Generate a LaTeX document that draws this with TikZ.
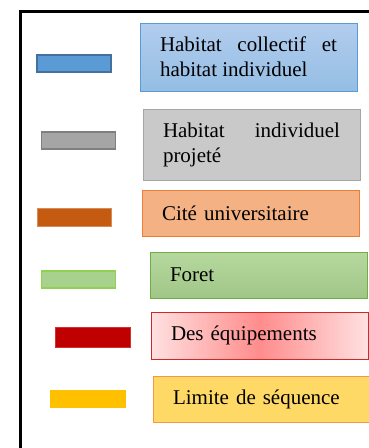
\documentclass[tikz,border=0pt]{standalone}
\usepackage{fontspec}
\setmainfont{Liberation Serif}
\usepackage{tikz}

\definecolor{bluesw}{HTML}{5B9BD5}
\definecolor{bluesd}{HTML}{41719C}
\definecolor{greysw}{HTML}{A5A5A5}
\definecolor{greysd}{HTML}{7F7F7F}
\definecolor{orangesw}{HTML}{C55A11}
\definecolor{orangebx}{HTML}{F4B183}
\definecolor{orangebd}{HTML}{ED7D31}
\definecolor{greensw}{HTML}{A9D18E}
\definecolor{greensd}{HTML}{92D050}
\definecolor{greenbd}{HTML}{70AD47}
\definecolor{redsw}{HTML}{C00000}
\definecolor{redbd}{HTML}{D02828}
\definecolor{yellowsw}{HTML}{FFC000}
\definecolor{yellowbx}{HTML}{FFD966}
\definecolor{yellowbd}{HTML}{F79646}

\begin{document}
\begin{tikzpicture}[
  x=1pt, y=-1pt,
  swatch/.style={draw, line width=1.5pt, inner sep=0pt, minimum width=74pt, minimum height=17pt},
  legbox/.style={draw, line width=1pt, minimum width=217pt, inner xsep=20pt, inner ysep=0pt,
    text width=177pt, align=left, font=\fontsize{21}{25}\selectfont},
  twoline/.style={legbox, align=justify, minimum height=68pt}]
\useasboundingbox (0,0) rectangle (369,448);
% frame
\draw[line width=3pt] (20.5,450) -- (20.5,11.5) -- (372,11.5);
% rows of the legend
\node[swatch, fill=bluesw, draw=bluesd] (sw1) at (74,63.5) {};
\node[twoline, top color=blue!8!bluesw!45, bottom color=bluesw!65, draw=bluesw] (lb1) at (248.5,57)
  {Habitat collectif et habitat individuel};
\node[swatch, fill=greysw, draw=greysd] (sw2) at (78.5,140.5) {};
\node[twoline, fill=black!21, draw=greysw, minimum height=71pt] (lb2) at (251.5,144.5)
  {Habitat individuel projeté};
\node[swatch, fill=orangesw, draw=orangesw!70, line width=0.6pt, minimum height=18pt] (sw3) at (74,217) {};
\node[legbox, fill=orangebx, draw=orangebd, minimum height=46pt] (lb3) at (250.5,213)
  {Cité universitaire};
\node[swatch, fill=greensw, draw=greensd] (sw4) at (78.5,279.5) {};
\node[legbox, top color=greensw!85, bottom color=greensw!95!black, draw=greenbd, minimum height=46pt] (lb4) at (258.5,275)
  {Foret};
\node[swatch, fill=redsw, draw=redsw!80, line width=0.6pt, minimum width=75pt, minimum height=20pt] (sw5) at (92.5,337) {};
\node[legbox, left color=red!12, right color=red!12, middle color=red!45, draw=redbd, minimum height=47pt] (lb5) at (259.5,335.5)
  {Des équipements};
\node[swatch, fill=yellowsw, draw=yellowsw, line width=0.6pt, minimum width=75pt] (sw6) at (87.5,398.5) {};
\node[legbox, fill=yellowbx, draw=yellowbd, minimum height=46pt] (lb6) at (261.5,399)
  {Limite de séquence};
\end{tikzpicture}
\end{document}
